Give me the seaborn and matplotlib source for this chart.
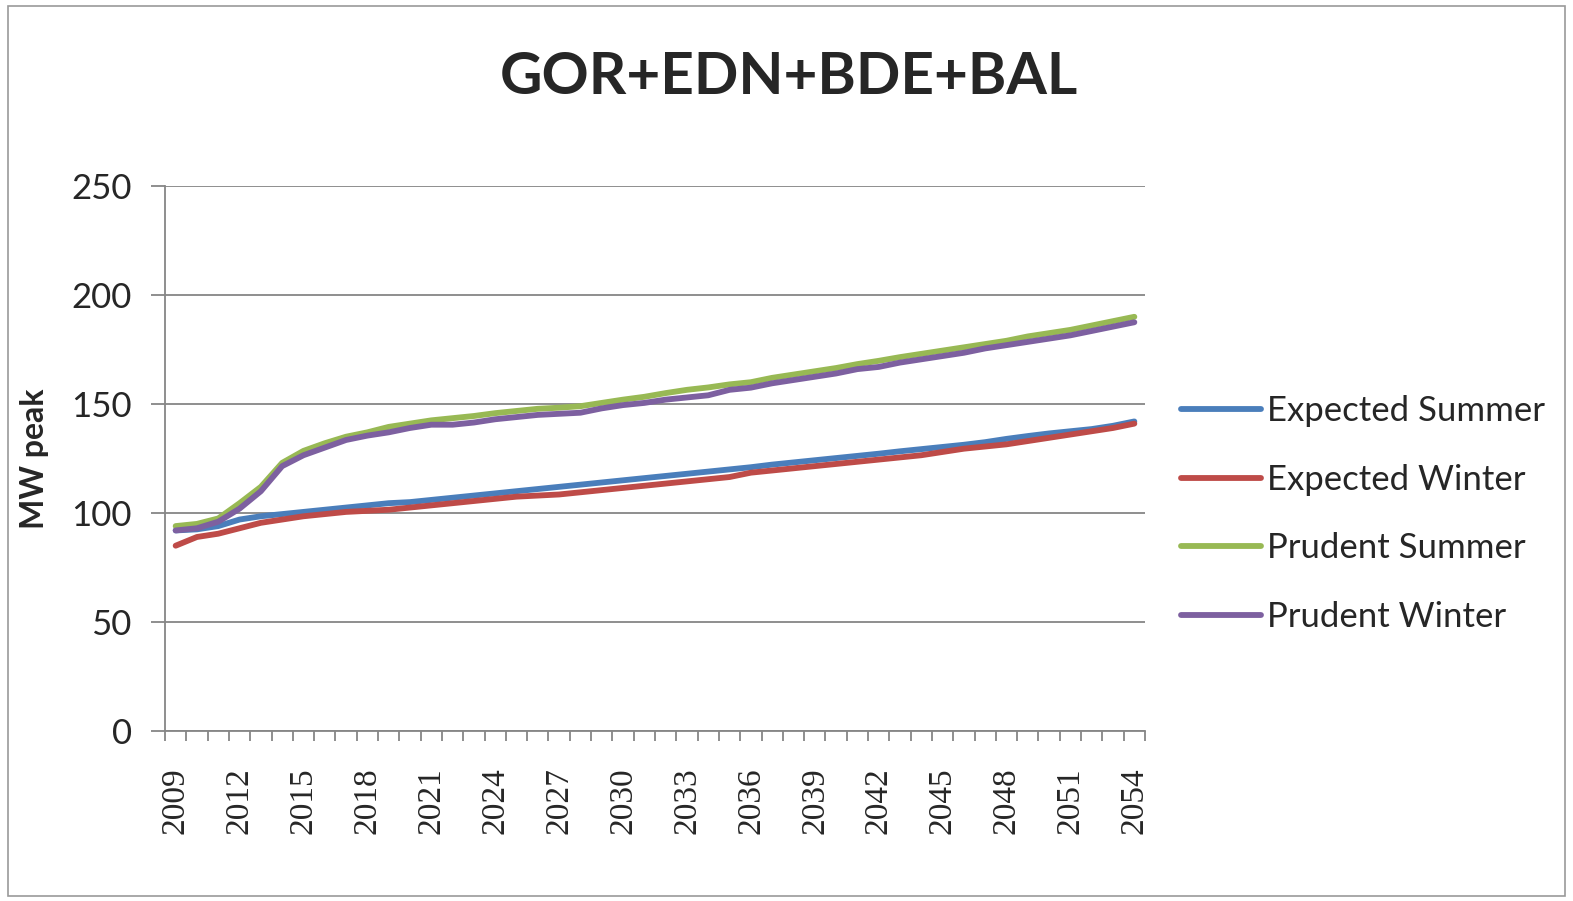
import numpy as np
import pandas as pd
import seaborn as sns
from matplotlib import pyplot as plt
from matplotlib import font_manager as fm
from matplotlib.patches import Rectangle
from matplotlib.lines import Line2D
from matplotlib.ticker import MultipleLocator

years = list(range(2009, 2055))

expected_summer = [92, 92.5, 94, 97, 98.5, 99.5, 100.5, 101.5, 102.5, 103.5,
                   104.5, 105, 106, 107, 108, 109, 110, 111, 112, 113,
                   114, 115, 116, 117, 118, 119, 120, 121, 122.2, 123.2,
                   124.2, 125.2, 126.2, 127.2, 128.3, 129.3, 130.3, 131.3, 132.5, 134,
                   135.3, 136.5, 137.5, 138.5, 140, 142]
expected_winter = [85, 89, 90.5, 93, 95.5, 97, 98.5, 99.5, 100.5, 101,
                   101.5, 102.5, 103.5, 104.5, 105.5, 106.5, 107.5, 108, 108.5, 109.5,
                   110.5, 111.5, 112.5, 113.5, 114.5, 115.5, 116.5, 118.5, 119.5, 120.5,
                   121.5, 122.5, 123.5, 124.5, 125.5, 126.5, 128, 129.5, 130.5, 131.5,
                   133, 134.5, 136, 137.5, 139, 141]
prudent_summer = [94, 95, 97.5, 104.5, 112, 123, 128.5, 132, 135, 137,
                  139.5, 141, 142.5, 143.5, 144.5, 145.8, 146.8, 147.8, 148.3, 149,
                  150.5, 152, 153.3, 155, 156.5, 157.6, 159, 160, 162, 163.5,
                  165, 166.5, 168.3, 169.8, 171.5, 173, 174.5, 176, 177.5, 179,
                  181, 182.5, 184, 186, 188, 190]
prudent_winter = [92, 93, 96, 102, 110, 121.5, 126.5, 130, 133.5, 135.5,
                  137, 139, 140.5, 140.5, 141.5, 143, 144, 145, 145.5, 146,
                  148, 149.5, 150.5, 152, 153, 154, 156.5, 157.5, 159.5, 161,
                  162.5, 164, 166, 167, 169, 170.5, 172, 173.5, 175.5, 177,
                  178.5, 180, 181.5, 183.5, 185.5, 187.5]

series_names = ["Expected Summer", "Expected Winter", "Prudent Summer", "Prudent Winter"]
colors = ["#4A7EBB", "#BE4B48", "#98B954", "#7D60A0"]

df = pd.DataFrame({
    "year": years * 4,
    "value": expected_summer + expected_winter + prudent_summer + prudent_winter,
    "series": np.repeat(series_names, len(years)),
})

sns.set_style("white")
plt.rcParams['font.family'] = ['Lato', 'DejaVu Sans']

# serif face for the year labels, like the original Times axis
serif_path = fm.findfont(fm.FontProperties(family=["Liberation Serif", "DejaVu Serif"]))
serif_font = fm.FontProperties(fname=serif_path, size=24)

fig = plt.figure(figsize=(15.73, 9.01), dpi=100)
ax = fig.add_axes([165 / 1573, 1 - 731 / 901, 980 / 1573, 545 / 901])

sns.lineplot(data=df, x="year", y="value", hue="series", palette=colors,
             linewidth=4.2, ax=ax, legend=False)

# outer chart frame
fig.patches.append(Rectangle((8 / 1573, 5 / 901), 1557 / 1573, 890 / 901,
                             transform=fig.transFigure, fill=False,
                             edgecolor="#9a9a9a", linewidth=1.2))

ax.set_xlim(2008.5, 2054.5)
ax.set_ylim(0, 250)
ax.yaxis.set_major_locator(MultipleLocator(50))
ax.grid(axis="y", color="#868686", linewidth=1.3)
ax.set_axisbelow(True)
sns.despine(ax=ax)
for sp in ("left", "bottom"):
    ax.spines[sp].set_color("#868686")
    ax.spines[sp].set_linewidth(1.3)

ax.set_xticks(np.arange(2008.5, 2055, 1), minor=True)
ax.tick_params(axis="x", which="major", length=0, pad=26)
ax.tick_params(axis="x", which="minor", length=7, width=1.3, color="#868686",
               direction="out", bottom=True)
ax.tick_params(axis="y", length=10, width=1.3, color="#868686", pad=14,
               labelsize=25, left=True)
ax.set_xticks(years[::3])
ax.set_xticklabels([str(y) for y in years[::3]], rotation=90,
                   fontproperties=serif_font)
ax.set_xlabel("")
ax.set_ylabel("MW peak", fontsize=23, fontweight="bold")
ax.yaxis.set_label_coords(-0.118, 0.5)

fig.text(789 / 1573, 1 - 78 / 901, "GOR+EDN+BDE+BAL", ha="center", va="center",
         fontsize=42, fontweight="bold")

handles = [Line2D([0], [0], color=c, linewidth=4.2) for c in colors]
fig.legend(handles, series_names, loc="center left",
           bbox_to_anchor=(1181 / 1573, 1 - 514 / 901), frameon=False,
           borderpad=0, borderaxespad=0, fontsize=25, handlelength=2.3,
           handletextpad=0.18, labelspacing=1.05)

fig.savefig("out.png", dpi=100)
